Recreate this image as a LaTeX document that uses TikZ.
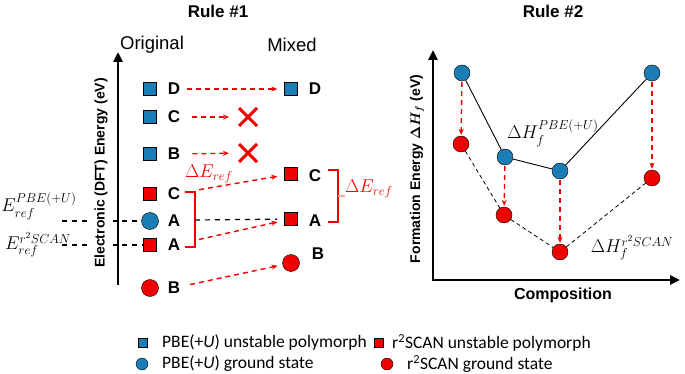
\RequirePackage{fix-cm}
\documentclass[tikz,border=0pt]{standalone}
\usepackage{amsmath}
\usepackage[no-math]{fontspec}
\setmainfont{Liberation Sans}
\newfontfamily\legfont{Carlito}
\usetikzlibrary{arrows.meta,shapes.misc}
\definecolor{pblue}{RGB}{27,125,182}
\definecolor{sred}{RGB}{240,0,0}

\begin{document}
\begin{tikzpicture}[x=1pt,y=-1pt,
    bsq/.style={draw,thin,fill=pblue,minimum size=13pt,inner sep=0pt},
    rsq/.style={bsq,fill=sred},
    bdot/.style={circle,draw,thin,fill=pblue,minimum size=17pt,inner sep=0pt},
    rdot/.style={bdot,fill=sred},
    lab/.style={font=\fontsize{17}{17}\selectfont\bfseries,inner sep=1pt},
    mlab/.style={font=\fontsize{18.5}{18.5}\selectfont,inner sep=0pt},
    rlab/.style={mlab,text=sred},
    legtxt/.style={font=\legfont\fontsize{17.5}{17.5}\selectfont,inner sep=0pt,anchor=west},
    rarr/.style={sred,line width=1.4pt,dash pattern=on 5pt off 4pt,-{Stealth[length=6pt,width=5pt]}},
    kdash/.style={black,line width=1.2pt,dash pattern=on 5pt off 5pt},
    brk/.style={sred,line width=2pt},
    xmark/.style={cross out,draw=sred,line width=3pt,minimum size=15pt,inner sep=0pt},
    axis/.style={line width=2.5pt},
   ]
      \useasboundingbox (0,0) rectangle (685,374);
      % Rule #1
      \node[lab] (t1) at (218,11) {Rule \#1};
      \node[inner sep=0pt,font=\fontsize{18.5}{18.5}\selectfont] (orig) at (152,45) {Original};
      \node[inner sep=0pt,font=\fontsize{18.5}{18.5}\selectfont] (mix) at (292,45) {Mixed};
      \draw[axis,-{Triangle[length=10pt,width=9pt]}] (118,285) -- (118,52);

      \node[bsq] (oD) at (150,89) {};
      \node[lab] (oDl) at (174,89) {D};
      \node[bsq] (oC) at (150,117) {};
      \node[lab] (oCl) at (174,117) {C};
      \node[bsq] (oB) at (150,154) {};
      \node[lab] (oBl) at (174,154) {B};
      \node[rsq] (oCr) at (150,194) {};
      \node[lab] (oCrl) at (174,194) {C};
      \node[bdot] (oA) at (150,221) {};
      \node[lab] (oAl) at (174,221) {A};
      \node[rsq] (oAr) at (150,245) {};
      \node[lab] (oArl) at (174,245) {A};
      \node[rdot] (oBr) at (150,288) {};
      \node[lab] (oBrl) at (174,288) {B};

      \node[bsq] (mD) at (291,89) {};
      \node[lab] (mDl) at (315,89) {D};
      \node[rsq] (mC) at (291,174) {};
      \node[lab] (mCl) at (315,176) {C};
      \node[rsq] (mA) at (291,219) {};
      \node[lab] (mAl) at (315,221) {A};
      \node[rdot] (mB) at (291,263) {};
      \node[lab] (mBl) at (318,254) {B};

      \node[xmark] (xC) at (248,117) {};
      \node[xmark] (xB) at (248,153) {};

      \draw[rarr,shorten <=6pt,shorten >=7pt] (oDl) -- (mD);
      \draw[rarr,shorten <=11pt,shorten >=10pt] (oCl) -- (xC);
      \draw[rarr,shorten <=11pt,shorten >=10pt] (oBl) -- (xB);
      \draw[rarr,shorten <=18pt,shorten >=7pt] (oCrl) -- (mC);
      \draw[rarr,shorten <=18pt,shorten >=7pt] (oArl) -- (mA);
      \draw[rarr,shorten <=9pt,shorten >=5pt] (oBrl) -- (mB);

      \coordinate (brL) at (195,220);
      \draw[brk] (185,192) -- (195,192) -- (195,247) -- (185,247);
      \draw[kdash,shorten >=7pt] (brL) -- (mA);
      \node[rlab] (dEl) at (209,174) {$\Delta E_{ref}$};

      \draw[brk] (328,170) -- (338,170) -- (338,222) -- (328,222);
      \draw[sred!35,line width=2pt] (338,196) -- (345,196);
      \node[rlab] (dEr) at (369,189) {$\Delta E_{ref}$};

      \coordinate (eP) at (62,221);
      \coordinate (eS) at (62,245);
      \draw[kdash] (eP) -- (oA);
      \draw[kdash] (eS) -- (oAr);
      \node[mlab] (ePl) at (39,206) {$E_{ref}^{PBE(+U)}$};
      \node[mlab] (eSl) at (38,245) {$E_{ref}^{r^2SCAN}$};
      \node[rotate=90,fill=white,inner sep=5pt,font=\fontsize{14}{14}\selectfont\bfseries] (ylab1) at (101,173) {Electronic (DFT) Energy (eV)};

      % Rule #2
      \node[lab] (t2) at (553,11) {Rule \#2};
      \draw[axis,{Triangle[length=10pt,width=9pt]}-{Triangle[length=10pt,width=9pt]}] (433,50) -- (433,280) -- (680,280);
      \node[rotate=90,font=\fontsize{14}{14}\selectfont\bfseries] (ylab2) at (417,169) {Formation Energy $\boldsymbol{\Delta H_f}$ (eV)};
      \node[lab,font=\fontsize{16}{16}\selectfont\bfseries] (xlab2) at (563,295) {Composition};

      \node[bdot,minimum size=16pt] (b1) at (462,73) {};
      \node[bdot,minimum size=16pt] (b2) at (505,157) {};
      \node[bdot,minimum size=16pt] (b3) at (560,171) {};
      \node[bdot,minimum size=16pt] (b4) at (652,73) {};
      \node[rdot,minimum size=16pt] (r1) at (461,144) {};
      \node[rdot,minimum size=16pt] (r2) at (504,215) {};
      \node[rdot,minimum size=16pt] (r3) at (560,252) {};
      \node[rdot,minimum size=16pt] (r4) at (652,178) {};
      \draw[line width=0.9pt] (b1) -- (b2) -- (b3) -- (b4);
      \draw[line width=0.8pt,dash pattern=on 4pt off 3pt] (r1) -- (r2) -- (r3) -- (r4);
      \foreach \i in {1,...,4}
        \draw[rarr,shorten <=1pt,shorten >=1pt] (b\i) -- (r\i);
      \node[mlab] (hP) at (553,133) {$\Delta H_f^{PBE(+U)}$};
      \node[mlab] (hS) at (632,248) {$\Delta H_f^{r^2SCAN}$};

      % legend
      \node[bsq,minimum size=9pt] (k1) at (143,343) {};
      \node[legtxt] (k1t) at (162,343) {PBE(+\textit{U}) unstable polymorph};
      \node[rsq,minimum size=9pt] (k2) at (379,343) {};
      \node[legtxt] (k2t) at (392,343) {r\textsuperscript{2}SCAN unstable polymorph};
      \node[bdot,minimum size=12pt] (k3) at (142,364) {};
      \node[legtxt] (k3t) at (162,364) {PBE(+\textit{U}) ground state};
      \node[rdot,minimum size=12pt] (k4) at (387,364) {};
      \node[legtxt] (k4t) at (407,364) {r\textsuperscript{2}SCAN ground state};
    \end{tikzpicture}
\end{document}
